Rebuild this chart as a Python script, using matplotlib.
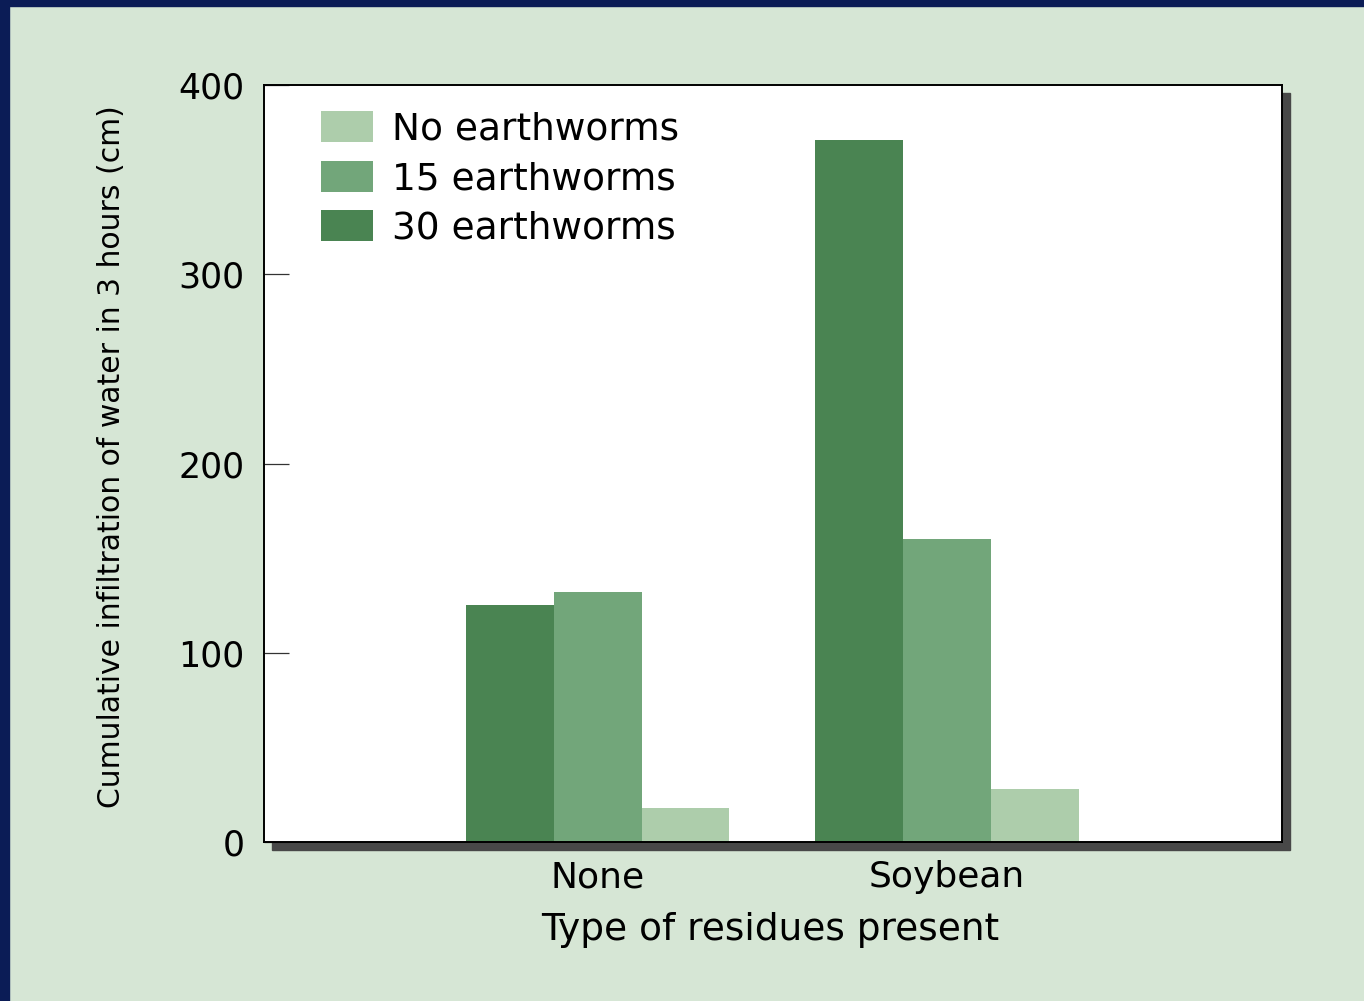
import numpy as np
import matplotlib
matplotlib.use("Agg")
import matplotlib.pyplot as plt
from matplotlib.patches import Rectangle

# data (cm of water infiltrated in 3 hours)
categories = ["None", "Soybean"]
no_worms = [18, 28]
worms_15 = [132, 160]
worms_30 = [125, 371]

y_ticks = [0, 100, 200, 300, 400]

bg = "#d6e6d5"
c_light = "#adcdab"
c_mid = "#72a67a"
c_dark = "#4a8452"

plt.rcParams["font.family"] = ["DejaVu Sans"]

fig = plt.figure(figsize=(13.64, 10.01), dpi=100, facecolor=bg)
ax = fig.add_axes([0.19355, 0.15884, 0.74633, 0.75624])
ax.set_facecolor("white")

x = np.arange(len(categories))
w = 0.252
b30 = ax.bar(x - w, worms_30, w, color=c_dark, label="30 earthworms", zorder=2)
b15 = ax.bar(x, worms_15, w, color=c_mid, label="15 earthworms", zorder=2)
b0 = ax.bar(x + w, no_worms, w, color=c_light, label="No earthworms", zorder=2)

ax.set_xlim(-0.9556, 1.961)
ax.set_ylim(0, 400)
ax.set_xticks(x)
ax.set_xticklabels(categories, fontsize=26)
ax.set_yticks(y_ticks)
ax.set_yticklabels([str(v) for v in y_ticks], fontsize=25)
ax.tick_params(axis="y", direction="in", length=18, width=0.9, pad=14, color="#333333")
ax.tick_params(axis="x", direction="in", length=13, width=0.9, pad=13, color="#333333")

for s in ax.spines.values():
    s.set_linewidth(1.4)
    s.set_color("black")

ax.set_xlabel("Type of residues present", fontsize=27)
ax.xaxis.set_label_coords(0.497, -0.093)
ax.set_ylabel("Cumulative infiltration of water in 3 hours (cm)", fontsize=21.5)
ax.yaxis.set_label_coords(-0.136, 0.509)

leg = ax.legend(handles=[b0, b15, b30], loc="upper left", bbox_to_anchor=(0.056, 0.965),
                frameon=False, fontsize=27, borderpad=0, borderaxespad=0,
                handlelength=1.39, handleheight=0.88, handletextpad=0.5, labelspacing=0.35)

# drop shadow behind the plot frame
pos = ax.get_position()
dx, dy = 8 / 1364, 8 / 1001
fig.patches.append(Rectangle((pos.x0 + dx, pos.y0 - dy), pos.width, pos.height,
                             transform=fig.transFigure, color="#484848", zorder=-1))

# navy border on top and left
navy = "#0b1c56"
fig.patches.append(Rectangle((0, 1 - 6 / 1001), 1, 6 / 1001, transform=fig.transFigure,
                             color=navy, zorder=5))
fig.patches.append(Rectangle((0, 0), 9 / 1364, 1, transform=fig.transFigure,
                             color=navy, zorder=5))

fig.savefig("out.png", dpi=100, facecolor=bg)
